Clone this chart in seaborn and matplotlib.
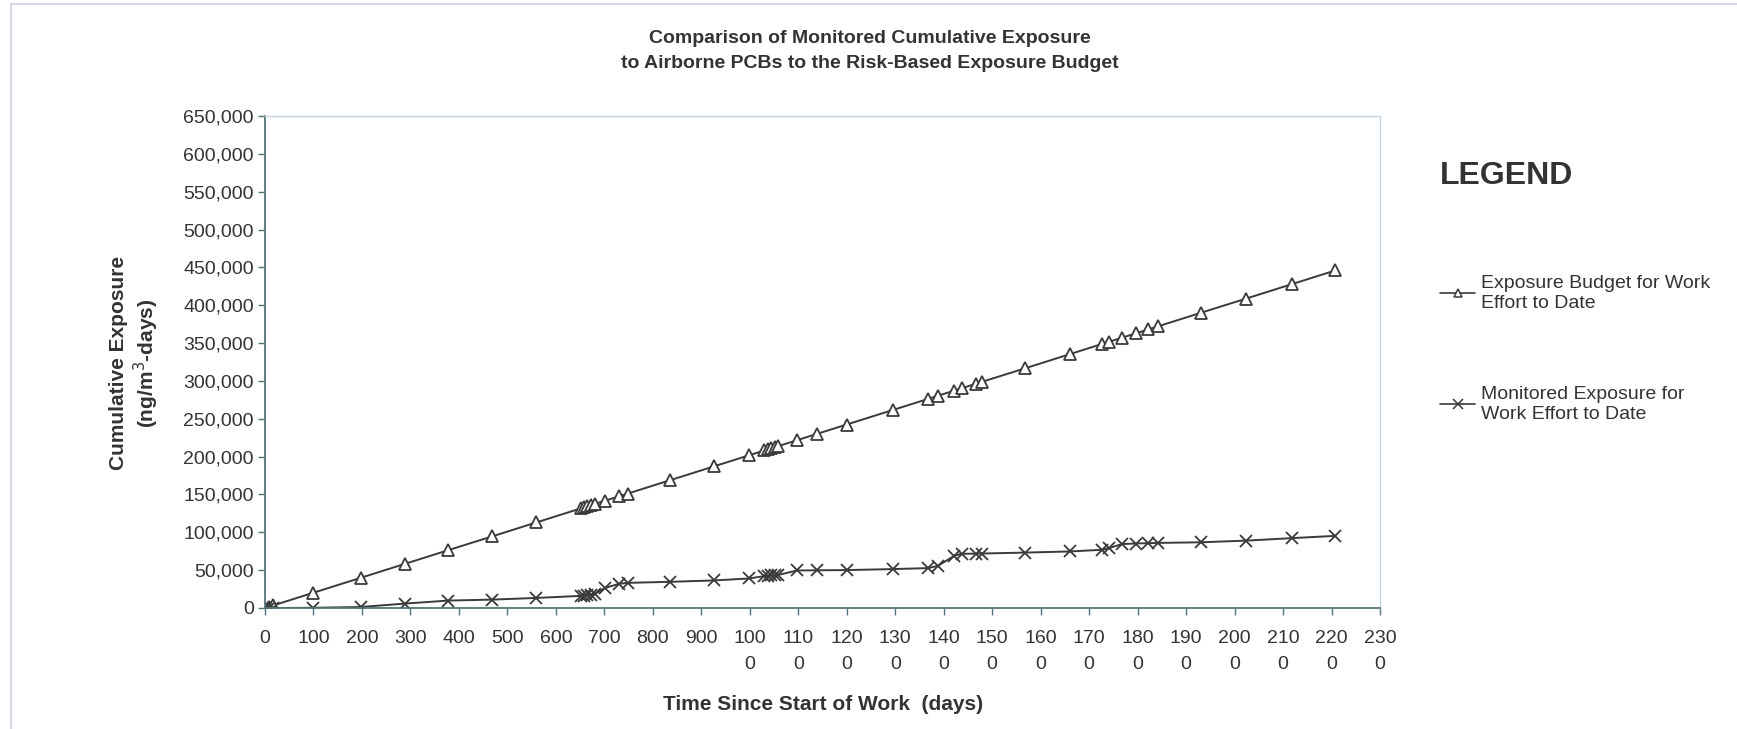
import pandas as pd
import seaborn as sns
import matplotlib.pyplot as plt
from matplotlib.lines import Line2D
from matplotlib.ticker import FuncFormatter

# sample dates (days since start of work), shared by both series
days = [0, 9, 17, 100, 197, 288, 378, 469, 560, 651, 658, 665, 672, 680, 702, 730, 748,
        835, 926, 998, 1030, 1037, 1044, 1051, 1058, 1098, 1139, 1200, 1295, 1368, 1388,
        1422, 1437, 1467, 1480, 1568, 1660, 1727, 1741, 1768, 1796, 1822, 1842, 1930,
        2024, 2118, 2208]

budget = [0, 1800, 3400, 20200, 39800, 58200, 76400, 94700, 113100, 131500, 132900,
          134300, 135700, 137400, 141800, 147500, 151100, 168700, 187100, 201600, 208100,
          209500, 210900, 212300, 213700, 221800, 230100, 242400, 261600, 276300, 280400,
          287200, 290300, 296300, 299000, 316700, 335300, 348900, 351700, 357100, 362800,
          368000, 372100, 389900, 408800, 427800, 446000]

monitored = [0, 0, 0, 300, 1300, 5800, 9800, 11100, 13300, 16000, 16500, 17000, 17800,
             18500, 26600, 31900, 33200, 34600, 36400, 39000, 42100, 42500, 43000, 43300,
             43600, 49600, 49800, 50100, 51400, 52700, 55700, 69000, 71600, 71800, 72000,
             73200, 74700, 76900, 79100, 84500, 85200, 85700, 86000, 86800, 89000, 92300,
             95300]

label_budget = "Exposure Budget for Work\nEffort to Date"
label_monitored = "Monitored Exposure for\nWork Effort to Date"

x_ticks = list(range(0, 2301, 100))
y_ticks = list(range(0, 650001, 50000))

df_budget = pd.DataFrame({'day': days, 'exposure': budget})
df_monitored = pd.DataFrame({'day': days, 'exposure': monitored})

sns.set_style('white')
plt.rcParams['font.family'] = ['Liberation Sans', 'DejaVu Sans']

line_col = '#3a3a3a'
text_col = '#333333'
axis_col = '#55747a'

fig = plt.figure(figsize=(17.37, 7.29), dpi=100)
ax = fig.add_axes([265 / 1737, 1 - 608 / 729, (1380 - 265) / 1737, (608 - 116) / 729])

sns.lineplot(data=df_budget, x='day', y='exposure', color=line_col, marker='^',
             estimator=None, sort=False, ax=ax, linewidth=1.4, markersize=9,
             markeredgewidth=1.3, markerfacecolor='white', markeredgecolor=line_col)
sns.lineplot(data=df_monitored, x='day', y='exposure', color=line_col, marker='x',
             estimator=None, sort=False, ax=ax, linewidth=1.4, markersize=9,
             markeredgewidth=1.3, markeredgecolor=line_col)

ax.set_xlim(0, 2300)
ax.set_ylim(0, 650000)
ax.set_xticks(x_ticks)
ax.set_xticklabels([str(v) if v < 1000 else str(v)[:3] + '\n' + str(v)[3:] for v in x_ticks])
for lab in ax.get_xticklabels():
    lab.set_linespacing(1.7)
ax.set_yticks(y_ticks)
ax.yaxis.set_major_formatter(FuncFormatter(lambda v, p: f'{int(v):,}'))
ax.set_xlabel('')
ax.set_ylabel('')

ax.tick_params(axis='both', direction='out', length=5, width=1, color=axis_col,
               labelsize=14, labelcolor=text_col, left=True, bottom=True)
ax.tick_params(axis='y', pad=3)
ax.tick_params(axis='x', pad=11)
for side in ['left', 'bottom']:
    ax.spines[side].set_color(axis_col)
    ax.spines[side].set_linewidth(1.3)
for side in ['top', 'right']:
    ax.spines[side].set_color('#c5d3dd')
    ax.spines[side].set_linewidth(1.0)

fig.text(0.501, 0.93, 'Comparison of Monitored Cumulative Exposure\n'
         'to Airborne PCBs to the Risk-Based Exposure Budget',
         ha='center', va='center', fontsize=14, fontweight='bold', color=text_col,
         linespacing=1.65)
fig.text(135 / 1737, 0.502, 'Cumulative Exposure\n(ng/m$^3$-days)', rotation=90,
         ha='center', va='center', multialignment='center', fontsize=15,
         fontweight='bold', color=text_col, linespacing=1.2)
fig.text(823 / 1737, 1 - 704 / 729, 'Time Since Start of Work  (days)', ha='center',
         va='center', fontsize=15, fontweight='bold', color=text_col)
fig.text(1440 / 1737, 1 - 176 / 729, 'LEGEND', ha='left', va='center', fontsize=23,
         fontweight='bold', color=text_col)

handles = [
    Line2D([], [], color=line_col, lw=1.2, marker='^', markersize=6, mfc='white',
           mec=line_col, mew=1.1),
    Line2D([], [], color=line_col, lw=1.2, marker='x', markersize=7, mec=line_col,
           mew=1.1),
]
leg = ax.legend(handles, [label_budget, label_monitored], loc='upper left',
                bbox_to_anchor=(1440 / 1737, 1 - 275 / 729), bbox_transform=fig.transFigure,
                frameon=False, handlelength=1.8, handletextpad=0.3, labelspacing=3.85,
                borderpad=0, borderaxespad=0, fontsize=14)
for t in leg.get_texts():
    t.set_color(text_col)

# faint outer frame of the chart sheet
fig.add_artist(Line2D([11 / 1737, 11 / 1737], [0.0, 1 - 4 / 729], color='#cfd0e0',
                      lw=1.2, transform=fig.transFigure))
fig.add_artist(Line2D([11 / 1737, 1.0], [1 - 4 / 729, 1 - 4 / 729], color='#cfd0e0',
                      lw=1.2, transform=fig.transFigure))

fig.savefig('out.png', dpi=100)
